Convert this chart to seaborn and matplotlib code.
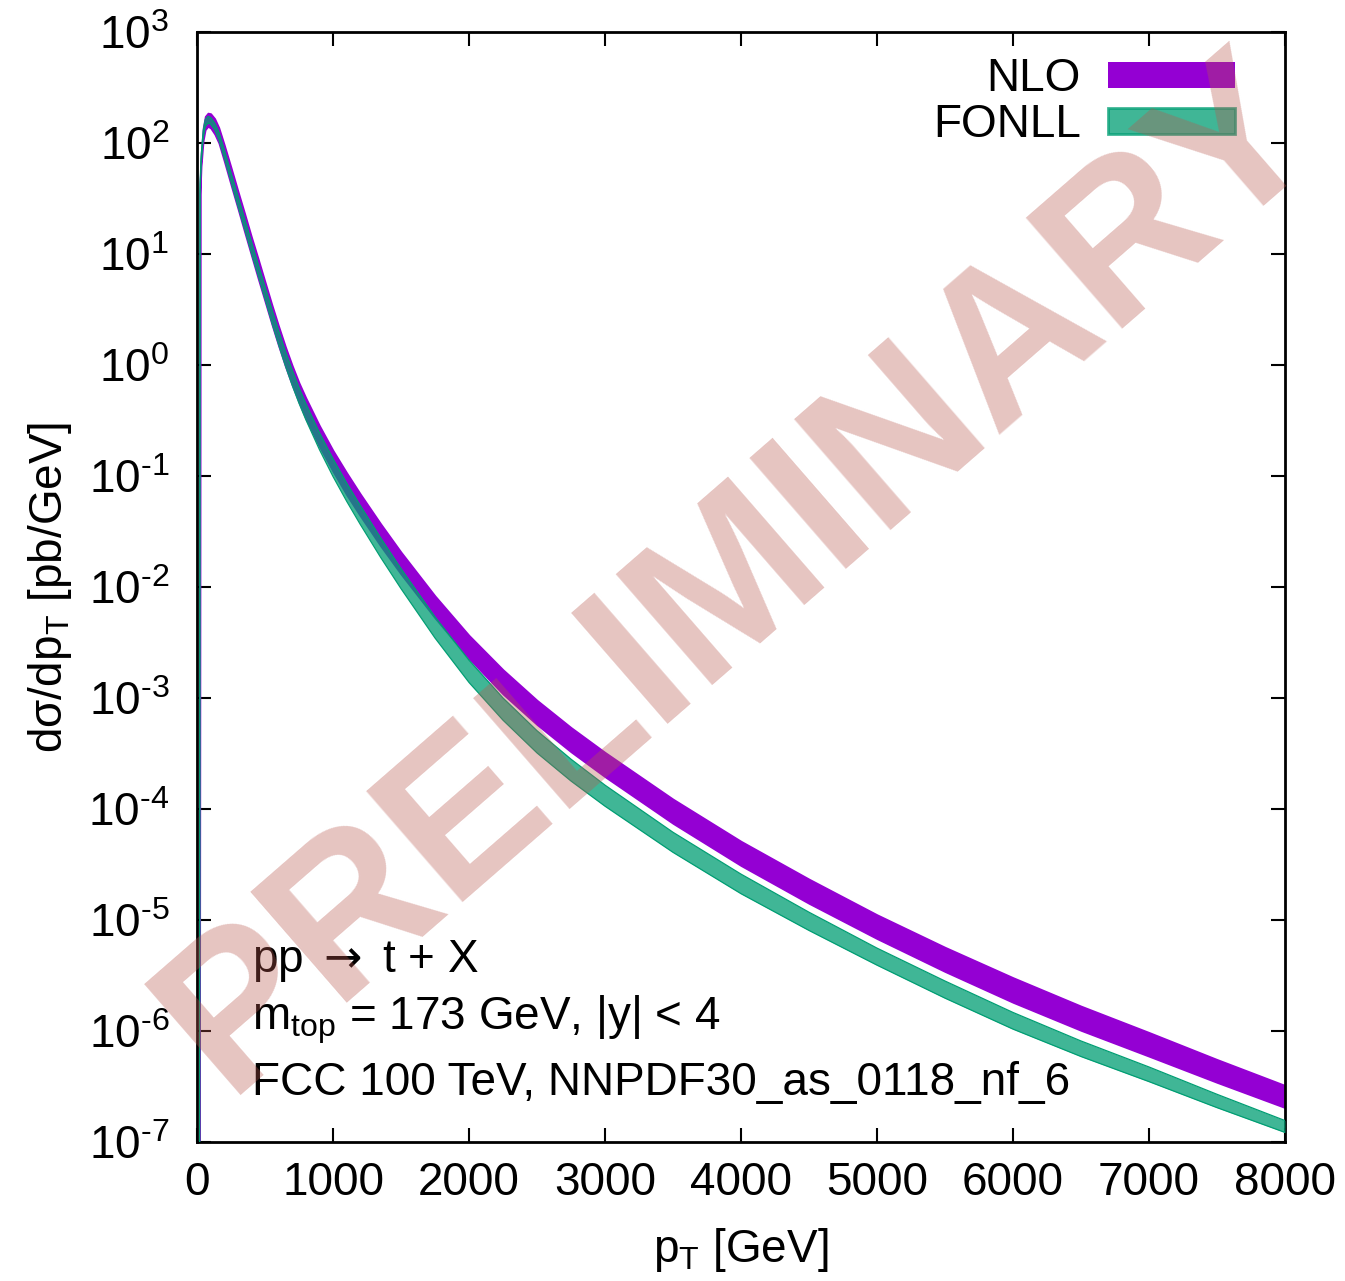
import math
import matplotlib
matplotlib.use("Agg")
import matplotlib.pyplot as plt
from matplotlib.patches import Patch
from matplotlib.ticker import FixedLocator, NullLocator, FuncFormatter
import seaborn as sns
import pandas as pd

# values (pT in GeV, dsigma/dpT in pb/GeV)
pt = [18, 22, 30, 45, 60, 80, 100, 130, 160, 200,
      250, 300, 350, 400, 450, 500, 550, 600, 650, 700,
      750, 800, 900, 1000, 1100, 1200, 1350, 1500, 1750, 2000,
      2250, 2500, 2750, 3000, 3500, 4000, 4500, 5000, 5500, 6000,
      6500, 7000, 7500, 8000]
nlo_hi = [1e-9, 45.7, 81.3, 138, 173.8, 186.2, 184.1, 166.0, 138.0, 96.6,
          60.3, 37.2, 23.2, 14.3, 9.02, 5.62, 3.51, 2.24, 1.462, 0.989,
          0.692, 0.507, 0.285, 0.170, 0.1072, 0.0692, 0.0372, 0.02065, 8.32e-3, 3.67e-3,
          1.80e-3, 9.55e-4, 5.43e-4, 3.24e-4, 1.23e-4, 5.13e-5, 2.34e-5, 1.117e-5, 5.69e-6, 3.03e-6,
          1.679e-6, 9.72e-7, 5.55e-7, 3.24e-7]
nlo_lo = [1e-9, 34.7, 61.7, 104.7, 131.8, 141.3, 136.5, 120.2, 100.0, 68.4,
          41.7, 25.7, 15.7, 9.66, 5.96, 3.72, 2.32, 1.479, 0.966, 0.653,
          0.457, 0.327, 0.184, 0.1096, 0.0676, 0.0437, 0.0234, 0.01303, 5.25e-3, 2.265e-3,
          1.084e-3, 5.75e-4, 3.27e-4, 1.95e-4, 7.41e-5, 3.09e-5, 1.41e-5, 6.79e-6, 3.43e-6, 1.81e-6,
          1.012e-6, 5.92e-7, 3.44e-7, 2.04e-7]
fonll_hi = [1e-9, 42.7, 75.9, 128.8, 162.2, 173.8, 169.8, 151.4, 125.9, 87.1,
            53.7, 33.5, 20.7, 12.9, 8.04, 5.07, 3.18, 2.03, 1.324, 0.897,
            0.624, 0.449, 0.246, 0.1429, 0.0865, 0.0543, 0.0277, 0.01462, 5.37e-3, 2.19e-3,
            1.0e-3, 5.07e-4, 2.81e-4, 1.64e-4, 6.17e-5, 2.59e-5, 1.175e-5, 5.58e-6, 2.82e-6, 1.469e-6,
            8.13e-7, 4.74e-7, 2.69e-7, 1.56e-7]
fonll_lo = [1e-9, 37.2, 66.1, 112.2, 141.3, 151.4, 147.9, 131.8, 107.2, 74.1,
            44.7, 27.2, 16.8, 10.2, 6.38, 3.94, 2.415, 1.524, 0.982, 0.656,
            0.452, 0.322, 0.173, 0.0989, 0.0593, 0.0367, 0.01849, 9.66e-3, 3.47e-3, 1.38e-3,
            6.31e-4, 3.20e-4, 1.786e-4, 1.06e-4, 4.07e-5, 1.726e-5, 8.05e-6, 3.92e-6, 1.977e-6, 1.040e-6,
            5.89e-7, 3.50e-7, 2.04e-7, 1.22e-7]

x_ticks = [0, 1000, 2000, 3000, 4000, 5000, 6000, 7000, 8000]
y_ticks = [1e-7, 1e-6, 1e-5, 1e-4, 1e-3, 1e-2, 1e-1, 1e0, 1e1, 1e2, 1e3]
info_lines = ["pp $\\mathsf{\\rightarrow}$ t + X",
              "m$_\\mathrm{top}$ = 173 GeV, |y| < 4",
              "FCC 100 TeV, NNPDF30_as_0118_nf_6"]

df = pd.DataFrame({"pt": pt, "nlo_hi": nlo_hi, "nlo_lo": nlo_lo,
                   "fonll_hi": fonll_hi, "fonll_lo": fonll_lo})

nlo_col = "#9400d3"
fonll_col = "#009e73"


def pow10_label(v, pos):
    k = int(round(math.log10(v)))
    if k < 0:
        return "$10^{\\text{-}%d}$" % (-k)
    return "$10^{%d}$" % k


sns.set_theme(style="ticks")
plt.rcParams["font.family"] = ["Liberation Sans", "DejaVu Sans"]
plt.rcParams["mathtext.fontset"] = "custom"
plt.rcParams["mathtext.rm"] = "Liberation Sans"
plt.rcParams["mathtext.it"] = "Liberation Sans:italic"
plt.rcParams["mathtext.sf"] = "DejaVu Sans"
plt.rcParams["mathtext.default"] = "regular"
plt.rcParams["axes.unicode_minus"] = False
plt.rcParams["text.color"] = "black"
plt.rcParams["axes.labelcolor"] = "black"

fs = 33
fig = plt.figure(figsize=(13.45, 12.81), dpi=100)
ax = fig.add_axes([0.1465, 0.1085, 0.8089, 0.8665])

ax.fill_between(df["pt"], df["nlo_lo"], df["nlo_hi"], facecolor=nlo_col,
                edgecolor=nlo_col, linewidth=1.2, zorder=2)
ax.fill_between(df["pt"], df["fonll_lo"], df["fonll_hi"], facecolor=fonll_col,
                alpha=0.75, linewidth=0, zorder=3)
sns.lineplot(data=df, x="pt", y="fonll_hi", color=fonll_col, linewidth=0.9, ax=ax, zorder=4)
sns.lineplot(data=df, x="pt", y="fonll_lo", color=fonll_col, linewidth=0.9, ax=ax, zorder=4)

ax.set_yscale("log")
ax.set_xlim(0, 8000)
ax.set_ylim(1e-7, 1e3)
ax.xaxis.set_major_locator(FixedLocator(x_ticks))
ax.yaxis.set_major_locator(FixedLocator(y_ticks))
ax.yaxis.set_major_formatter(FuncFormatter(pow10_label))
ax.yaxis.set_minor_locator(NullLocator())
ax.xaxis.set_minor_locator(NullLocator())
ax.tick_params(axis="both", which="major", direction="in", length=10, width=1.5,
               top=True, right=True, labelsize=fs, color="black", labelcolor="black")
ax.tick_params(axis="x", pad=14)
ax.tick_params(axis="y", pad=20)
for s in ax.spines.values():
    s.set_linewidth(2)
    s.set_color("black")

ax.set_xlabel("p$_\\mathrm{T}$ [GeV]", fontsize=fs, labelpad=15)
ax.set_ylabel("dσ/dp$_\\mathrm{T}$ [pb/GeV]", fontsize=fs, labelpad=10)

handles = [Patch(facecolor=nlo_col, edgecolor=nlo_col, linewidth=0),
           Patch(facecolor=fonll_col, alpha=0.75, edgecolor=fonll_col, linewidth=2)]
leg = ax.legend(handles, ["NLO", "FONLL"], loc="upper right", bbox_to_anchor=(0.971, 0.994),
                markerfirst=False, frameon=False, fontsize=fs, handlelength=2.77,
                handleheight=0.5, handletextpad=0.6, labelspacing=0.05, borderaxespad=0)
leg.set_zorder(5)

for txt, yy in zip(info_lines, [0.153, 0.101, 0.0423]):
    ax.text(0.0506, yy, txt, transform=ax.transAxes, fontsize=fs, va="baseline",
            ha="left", zorder=6)

fig.text(0.550, 0.551, "PRELIMINARY", fontsize=153, fontweight="bold", rotation=41,
         ha="center", va="center", color="#b8574e", alpha=0.35, zorder=10)

fig.savefig("out.png", dpi=100)
